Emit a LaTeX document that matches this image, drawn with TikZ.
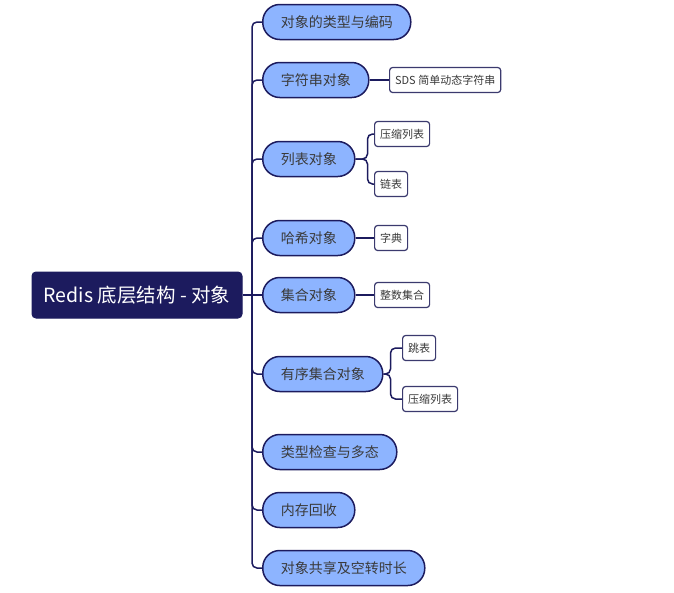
\documentclass[tikz,border=0pt]{standalone}
\usepackage{fontspec}
\setmainfont{Noto Sans CJK SC}
\definecolor{navy}{HTML}{1C1B5E}
\definecolor{lblue}{HTML}{8DB4FF}
\definecolor{subline}{HTML}{3B3A6E}
\definecolor{txt}{HTML}{3A3A3A}
\begin{document}
\begin{tikzpicture}[x=1pt,y=-1pt,
 rootbox/.style={draw=navy, fill=navy, text=white, rounded corners=4pt, minimum width=210pt, minimum height=46pt, font=\fontsize{19.5}{21}\selectfont, line width=1pt},
 topic/.style={draw=navy, fill=lblue, text=txt, rounded corners=17pt, minimum height=35pt, inner xsep=18pt, line width=1.5pt, font=\fontsize{14}{16}\selectfont, anchor=west},
 subbox/.style={draw=subline, fill=white, text=txt, rounded corners=3pt, minimum height=25pt, inner xsep=5.5pt, line width=1.2pt, font=\fontsize{11}{13}\selectfont, anchor=west},
 link/.style={draw=navy, line width=1.5pt, rounded corners=5pt}]
\useasboundingbox (0,0) rectangle (674,592);
\node[rootbox] (root) at (137,295) {Redis 底层结构 - 对象};
\coordinate (spine) at (252,295);
\node[topic] (t1) at (262,22) {对象的类型与编码};
\node[topic] (t2) at (262,80) {字符串对象};
\node[topic] (t3) at (262,159) {列表对象};
\node[topic] (t4) at (262,238) {哈希对象};
\node[topic] (t5) at (262,295) {集合对象};
\node[topic] (t6) at (262,374) {有序集合对象};
\node[topic] (t7) at (262,452) {类型检查与多态};
\node[topic] (t8) at (262,510) {内存回收};
\node[topic] (t9) at (262,568) {对象共享及空转时长};
\node[subbox] (s2) at (389,80) {SDS 简单动态字符串};
\node[subbox] (s3a) at (374,134) {压缩列表};
\node[subbox] (s3b) at (374,184) {链表};
\node[subbox] (s4) at (374,238) {字典};
\node[subbox] (s5) at (374,295) {整数集合};
\node[subbox] (s6a) at (402,348) {跳表};
\node[subbox] (s6b) at (402,399) {压缩列表};
\draw[link] (root.east) -- (spine);
\foreach \t in {t1,t2,t3,t4,t6,t7,t8,t9}{\draw[link] (spine) |- (\t.west);}
\draw[link] (spine) -- (t5.west);
\draw[link] (t2.east) -- (s2.west);
\draw[link] (t3.east) -- ++(12,0) |- (s3a.west);
\draw[link] (t3.east) -- ++(12,0) |- (s3b.west);
\draw[link] (t4.east) -- (s4.west);
\draw[link] (t5.east) -- (s5.west);
\draw[link] (t6.east) -- ++(7,0) |- (s6a.west);
\draw[link] (t6.east) -- ++(7,0) |- (s6b.west);
\end{tikzpicture}
\end{document}
